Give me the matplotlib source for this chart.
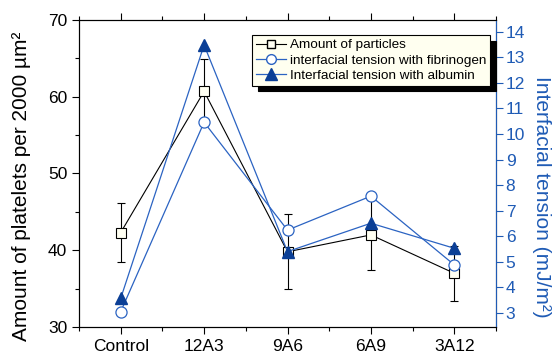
import matplotlib
matplotlib.use("Agg")
import matplotlib.pyplot as plt
from matplotlib.ticker import MultipleLocator
from matplotlib.lines import Line2D
import numpy as np

plt.rcParams['font.family'] = ['Liberation Sans', 'DejaVu Sans']

categories = ["Control", "12A3", "9A6", "6A9", "3A12"]
particles = [42.3, 60.7, 39.8, 42.0, 37.0]
particles_err = [3.8, 4.2, 4.9, 4.6, 3.6]
fibrinogen = [3.05, 10.46, 6.24, 7.57, 4.88]
albumin = [3.57, 13.48, 5.40, 6.51, 5.53]

blue_line = "#2b63c2"
blue_dark = "#0b3f96"
blue_axis = "#1f5bb5"

fig = plt.figure(figsize=(5.55, 3.55), dpi=100)
ax = fig.add_axes([79/555, 1-327/355, (496-79)/555, (327-20)/355])
ax2 = ax.twinx()

x = np.arange(len(categories))
ax.errorbar(x, particles, yerr=particles_err, color="black", lw=0.8,
            marker="s", ms=7, mfc="#fffff2", mec="black", mew=0.8,
            capsize=3, elinewidth=0.8, capthick=0.8, zorder=3)
ax2.plot(x, fibrinogen, color=blue_line, lw=0.9, marker="o", ms=8,
         mfc="white", mec=blue_line, mew=0.9, zorder=3)
ax2.plot(x, albumin, color=blue_line, lw=0.9, marker="^", ms=9,
         mfc=blue_dark, mec=blue_dark, zorder=3)

ax.set_xlim(-0.5, 4.5)
ax.set_ylim(30, 70)
ax2.set_ylim(2.45, 14.46)
ax.set_xticks(x)
ax.set_xticklabels(categories)
ax.xaxis.set_minor_locator(MultipleLocator(0.5))
ax.yaxis.set_major_locator(MultipleLocator(10))
ax.yaxis.set_minor_locator(MultipleLocator(5))
ax2.yaxis.set_major_locator(MultipleLocator(1))

ax.tick_params(axis='both', which='both', direction='out', labelsize=12.5, top=True)
ax.tick_params(which='major', length=5, width=0.8)
ax.tick_params(which='minor', length=3, width=0.8)
ax2.tick_params(axis='y', direction='out', length=5, width=0.8, colors=blue_axis,
                labelsize=12.5, pad=2)
ax2.spines['right'].set_color(blue_axis)
for s in ['left', 'top', 'bottom']:
    ax.spines[s].set_linewidth(0.8)
ax2.spines['right'].set_linewidth(0.8)

ax.set_ylabel("Amount of platelets per 2000 \u00b5m\u00b2", fontsize=15)
ax.yaxis.set_label_coords((31 - 79) / 417, (327 - 186) / 307)
ax2.set_ylabel("Interfacial tension (mJ/m\u00b2)", fontsize=15, color=blue_axis,
               rotation=270, va="center", ha="center")
ax2.yaxis.set_label_coords((541 - 79) / 417, (327 - 197) / 307)

handles = [
    Line2D([], [], color="black", lw=0.8, marker="s", ms=6, mfc="#fffff2", mec="black"),
    Line2D([], [], color=blue_line, lw=0.9, marker="o", ms=7, mfc="white", mec=blue_line),
    Line2D([], [], color=blue_line, lw=0.9, marker="^", ms=8, mfc=blue_dark, mec=blue_dark),
]
labels = ["Amount of particles", "interfacial tension with fibrinogen",
          "Interfacial tension with albumin"]
leg = ax2.legend(handles, labels, loc="upper left", bbox_to_anchor=(252/555, 1-35/355),
                 bbox_transform=fig.transFigure, fontsize=9.7, frameon=True, fancybox=False,
                 shadow={'color': 'black', 'alpha': 1, 'ox': 4, 'oy': -4},
                 handlelength=2.2, handletextpad=0.3, borderpad=0.3, labelspacing=0.2,
                 borderaxespad=0)
leg.get_frame().set_facecolor("#fffff0")
leg.get_frame().set_edgecolor("black")
leg.get_frame().set_linewidth(0.8)
leg.get_frame().set_alpha(1)

fig.savefig("out.png", dpi=100)
